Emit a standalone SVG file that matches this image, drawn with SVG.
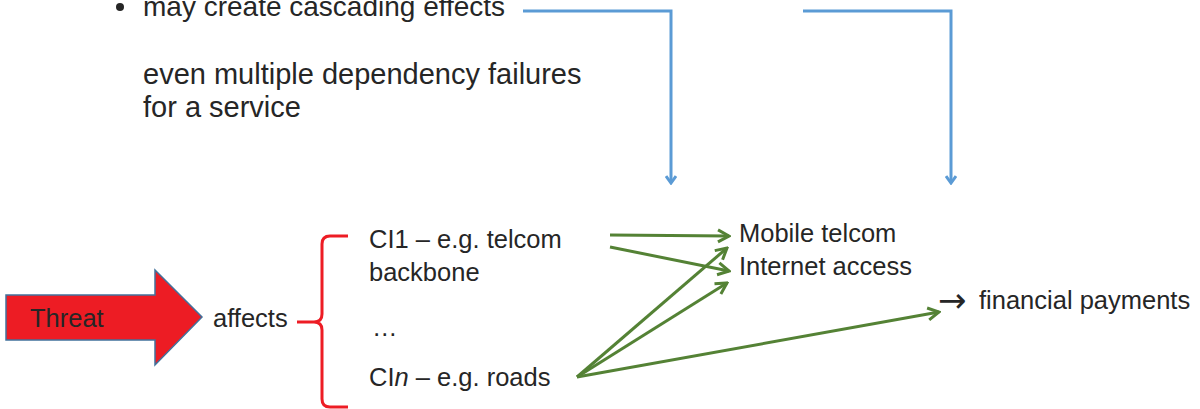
<svg xmlns="http://www.w3.org/2000/svg" width="1200" height="409" viewBox="0 0 1200 409">
<style>
text{font-family:"Liberation Sans",Arial,sans-serif;fill:#262626}
.top{font-size:29px}
.mid{font-size:25.5px}
.sym{font-family:"DejaVu Sans",sans-serif;font-size:34px}
.blue{fill:none;stroke:#5B9BD5;stroke-width:3}
.green{fill:none;stroke:#548235;stroke-width:3}
</style>
<defs>
<marker id="ab" markerWidth="12" markerHeight="12" viewBox="0 0 12 12" refX="10" refY="6" orient="auto" markerUnits="userSpaceOnUse">
<path d="M3,1 L10,6 L3,11" fill="none" stroke="#5B9BD5" stroke-width="3"/>
</marker>
<marker id="ag" markerWidth="16" markerHeight="16" viewBox="0 0 16 16" refX="14" refY="8" orient="auto" markerUnits="userSpaceOnUse">
<path d="M3,2 L14,8 L3,14" fill="none" stroke="#548235" stroke-width="3"/>
</marker>
</defs>
<g id="note">
<circle cx="120" cy="7" r="4" fill="#262626"/>
<text class="top" x="143" y="16" style="font-size:28px">may create cascading effects</text>
<text class="top" x="143" y="84">even multiple dependency failures</text>
<text class="top" x="143" y="117">for a service</text>
</g>
<g id="threat">
<path d="M6,295 L155,295 L155,270 L202,317 L155,365 L155,340 L6,340 Z" fill="#ED1C24" stroke="#41719C" stroke-width="1.5"/>
<text class="mid" x="30" y="327">Threat</text>
</g>
<g id="affects">
<text class="mid" x="213" y="327">affects</text>
<path d="M348,236 L330,236 Q322,236 322,244 L322,314 Q322,322 314,322 L297,322 L314,322 Q322,322 322,330 L322,399 Q322,407 330,407 L348,407" fill="none" stroke="#ED1C24" stroke-width="3"/>
</g>
<g id="ci1"><text class="mid" x="369" y="248">CI1 – e.g. telcom</text><text class="mid" x="369" y="281">backbone</text></g>
<g id="ellipsis"><text class="mid" x="372" y="336">…</text></g>
<g id="cin"><text class="mid" x="369" y="386">CI<tspan font-style="italic">n</tspan> – e.g. roads</text></g>
<g id="mobile"><text class="mid" x="739" y="242">Mobile telcom</text></g>
<g id="internet"><text class="mid" x="739" y="275">Internet access</text></g>
<g id="financial"><text class="sym" x="938" y="312">→</text><text class="mid" x="979" y="309">financial payments</text></g>
<g id="connectors">
<path class="blue" d="M523,11 L671,11 L671,183" marker-end="url(#ab)"/>
<path class="blue" d="M803,11 L951,11 L951,183" marker-end="url(#ab)"/>
<path class="green" d="M610,235 L729,236" marker-end="url(#ag)"/>
<path class="green" d="M610,247 L729,271" marker-end="url(#ag)"/>
<path class="green" d="M577,377 L727,248" marker-end="url(#ag)"/>
<path class="green" d="M577,377 L727,283" marker-end="url(#ag)"/>
<path class="green" d="M577,377 L939,312" marker-end="url(#ag)"/>
</g>
</svg>
